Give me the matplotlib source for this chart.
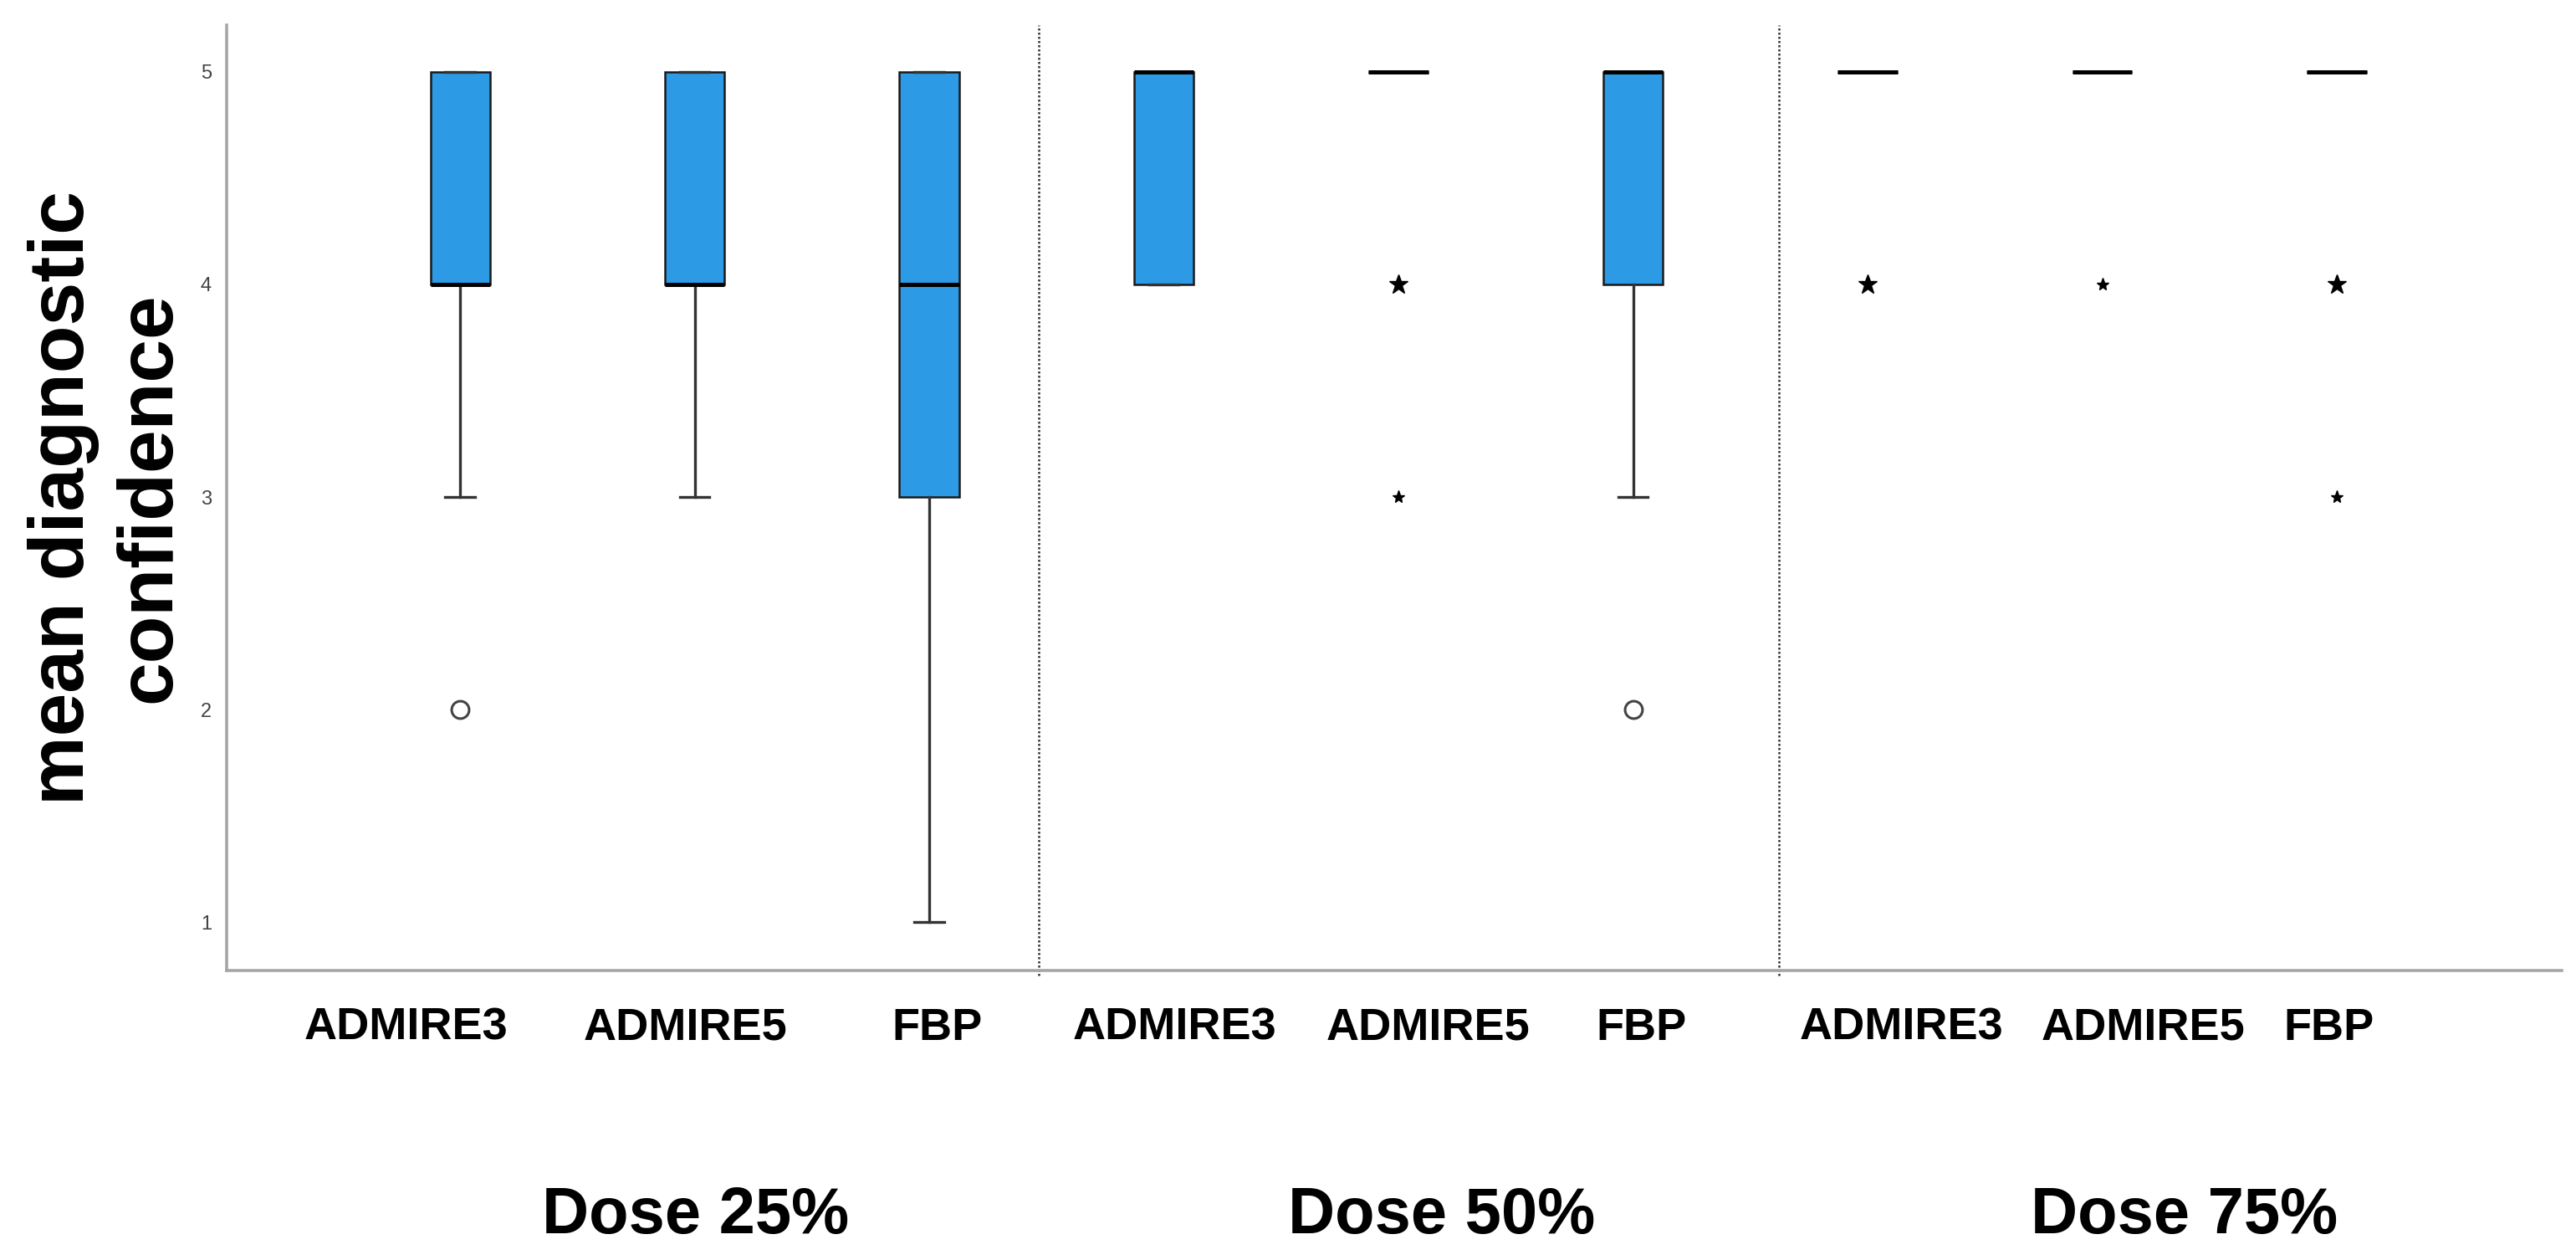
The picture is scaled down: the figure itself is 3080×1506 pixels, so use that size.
import numpy as np
import matplotlib
matplotlib.use("Agg")
import matplotlib.pyplot as plt

# box statistics (scores 1-5)
groups = ['ADMIRE3', 'ADMIRE5', 'FBP']
doses = ['Dose 25%', 'Dose 50%', 'Dose 75%']
tick_labels = groups * 3
q1 = [4, 4, 3, 4, 5, 4, 5, 5, 5]
med = [4, 4, 4, 5, 5, 5, 5, 5, 5]
q3 = [5, 5, 5, 5, 5, 5, 5, 5, 5]
whislo = [3, 3, 1, 4, 5, 3, 5, 5, 5]
whishi = [5, 5, 5, 5, 5, 5, 5, 5, 5]
# circles (outliers)
out_box = [0, 5]
out_val = [2, 2]
# stars (extreme values)
ext_box = [4, 4, 6, 7, 8, 8]
ext_val = [4, 3, 4, 4, 4, 3]
ext_big = [True, False, True, False, True, False]

plt.rcParams['font.family'] = ['Liberation Sans', 'DejaVu Sans']

fig = plt.figure(figsize=(30.8, 15.06), dpi=100)
ax = fig.add_axes([0.088, 0.2297, 0.9065, 0.7504])

pos = np.arange(len(q1))
stats = []
for i in range(len(q1)):
    fl = [v for b, v in zip(out_box, out_val) if b == i]
    stats.append(dict(q1=q1[i], med=med[i], q3=q3[i], whislo=whislo[i],
                      whishi=whishi[i], fliers=fl))

ax.bxp(stats, positions=pos, widths=0.254, patch_artist=True,
       boxprops=dict(facecolor='#2c9ae4', edgecolor='#1a1a1a', linewidth=1.8),
       medianprops=dict(color='black', linewidth=3.6, solid_capstyle='butt'),
       whiskerprops=dict(color='#333333', linewidth=2.4),
       capprops=dict(color='#333333', linewidth=2.4),
       flierprops=dict(marker='o', markersize=15, markerfacecolor='white',
                       markeredgecolor='#444444', markeredgewidth=2.2))

for b, v, big in zip(ext_box, ext_val, ext_big):
    ax.plot(pos[b], v, marker='*', color='black', markersize=17 if big else 11,
            linestyle='none')

# dotted separators between dose groups
for xs in [2.467, 5.622]:
    ax.axvline(xs, ymin=-0.005, ymax=1, color='#333333', linestyle=(0, (1, 1)),
               linewidth=1.8, clip_on=False)

ax.set_xlim(-0.995, 8.959)
ax.set_ylim(0.772, 5.22)
ax.set_yticks([1, 2, 3, 4, 5])
ax.set_yticklabels(['1', '2', '3', '4', '5'], fontsize=17, color='#444444')
ax.tick_params(axis='y', length=0, pad=13)
ax.set_xticks([])

for s in ['top', 'right']:
    ax.spines[s].set_visible(False)
for s in ['left', 'bottom']:
    ax.spines[s].set_color('#a6a6a6')
    ax.spines[s].set_linewidth(2.6)

# group labels placed under the axis
label_px = [486, 820, 1120, 1405, 1708, 1962, 2274, 2563, 2785]
for lab, px in zip(tick_labels, label_px):
    fig.text(px / 3080, 0.184, lab, ha='center', va='center',
             fontsize=39, fontweight='bold', color='black')

dose_px = [832, 1724, 2612]
for lab, px in zip(doses, dose_px):
    fig.text(px / 3080, 0.035, lab, ha='center', va='center',
             fontsize=56, fontweight='bold', color='black')

fig.text(0.0415, 0.605, 'mean diagnostic\nconfidence', rotation=90,
         ha='center', va='center', multialignment='center',
         fontsize=67, fontweight='bold', linespacing=1.27)

fig.savefig('out.png', dpi=100, facecolor='white')
